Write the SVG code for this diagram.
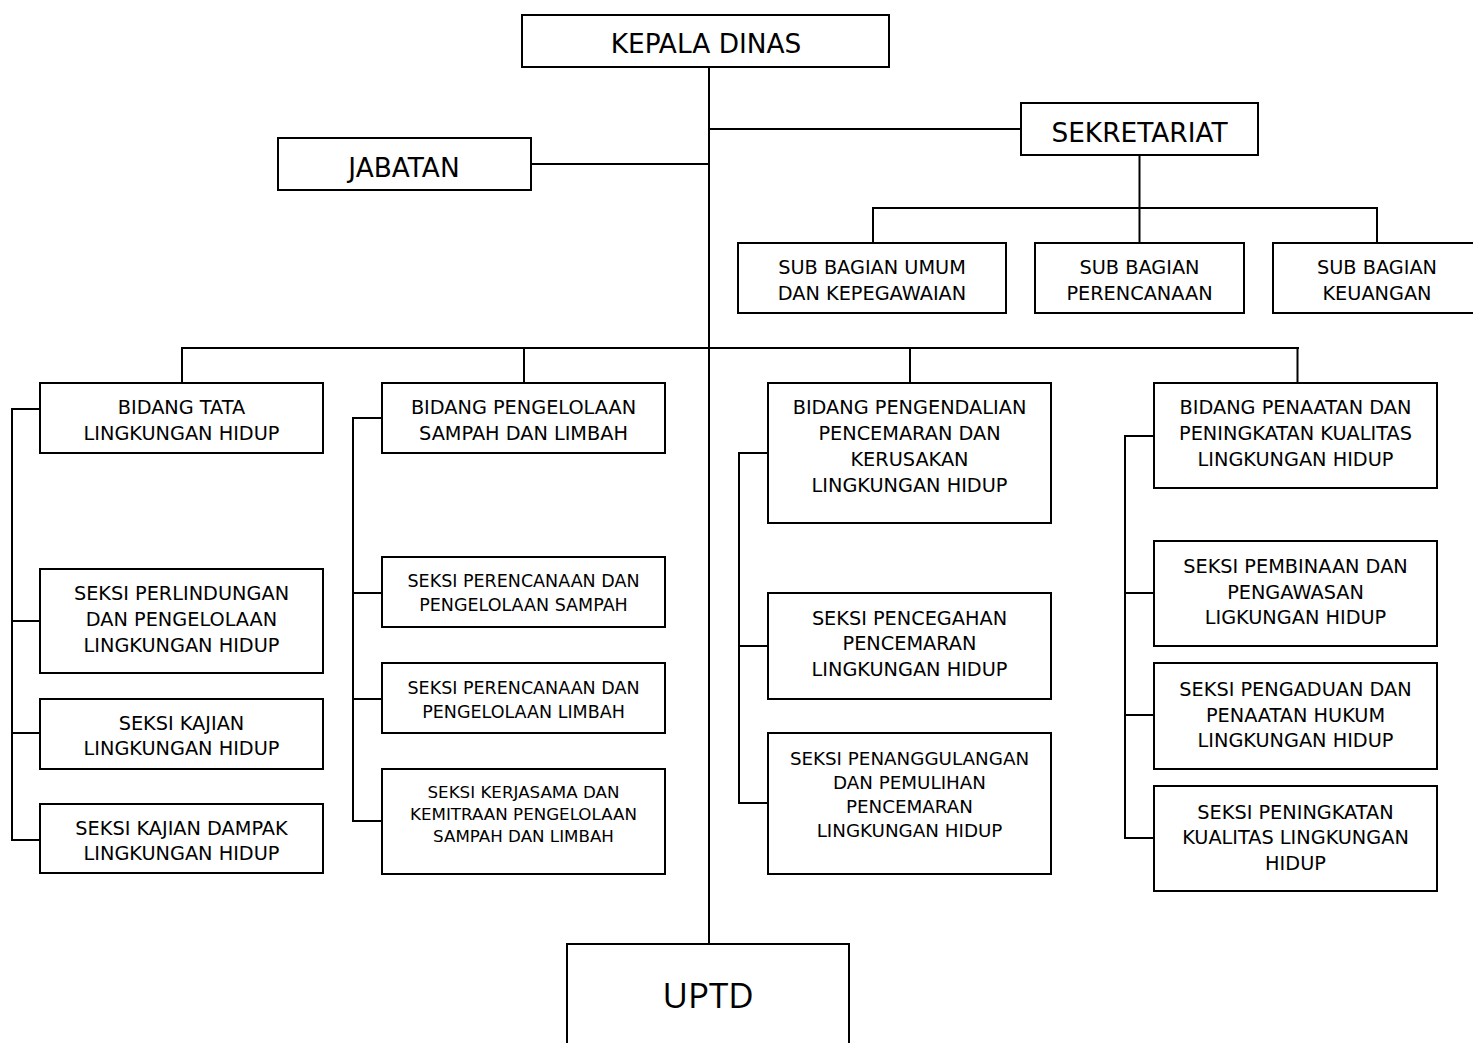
<svg xmlns="http://www.w3.org/2000/svg" width="1473" height="1043" viewBox="0 0 1473 1043">
<style>
rect{fill:#fff;stroke:#000;stroke-width:2}
.c line{stroke:#000;stroke-width:2;fill:none}
text{font-family:"DejaVu Sans",Verdana,sans-serif;text-anchor:middle;fill:#000}
.t{font-size:26.4px}
.m{font-size:19.3px}
.s{font-size:17.5px}
.xs{font-size:16.7px}
.p{font-size:18.3px}
.u{font-family:"Open Sans","Noto Sans",sans-serif;font-size:35px}
</style>
<rect x="0" y="0" width="1473" height="1043" style="stroke:none;fill:#fff"/>
<g class="c" id="connectors">
<line x1="709" y1="67" x2="709" y2="944"/>
<line x1="709" y1="129" x2="1021" y2="129"/>
<line x1="531" y1="164" x2="709" y2="164"/>
<line x1="1139.5" y1="155" x2="1139.5" y2="243"/>
<line x1="872" y1="208" x2="1378" y2="208"/>
<line x1="873" y1="207" x2="873" y2="243"/>
<line x1="1377" y1="207" x2="1377" y2="243"/>
<line x1="181" y1="348" x2="1299" y2="348"/>
<line x1="182" y1="347" x2="182" y2="383"/>
<line x1="524" y1="347" x2="524" y2="383"/>
<line x1="910" y1="347" x2="910" y2="383"/>
<line x1="1297.5" y1="347" x2="1297.5" y2="383"/>
<line x1="12" y1="408" x2="12" y2="841"/>
<line x1="11" y1="409" x2="40" y2="409"/>
<line x1="12" y1="621" x2="40" y2="621"/>
<line x1="12" y1="733" x2="40" y2="733"/>
<line x1="11" y1="840" x2="40" y2="840"/>
<line x1="353" y1="417" x2="353" y2="822"/>
<line x1="352" y1="418" x2="382" y2="418"/>
<line x1="353" y1="593" x2="382" y2="593"/>
<line x1="353" y1="699" x2="382" y2="699"/>
<line x1="352" y1="821" x2="382" y2="821"/>
<line x1="739" y1="452" x2="739" y2="804"/>
<line x1="738" y1="453" x2="768" y2="453"/>
<line x1="739" y1="646" x2="768" y2="646"/>
<line x1="738" y1="803" x2="768" y2="803"/>
<line x1="1125" y1="435" x2="1125" y2="839"/>
<line x1="1124" y1="436" x2="1154" y2="436"/>
<line x1="1125" y1="593" x2="1154" y2="593"/>
<line x1="1125" y1="715" x2="1154" y2="715"/>
<line x1="1124" y1="838" x2="1154" y2="838"/>
</g>
<g id="kepala-dinas"><rect x="522" y="15" width="367" height="52"/><text class="t" x="706" y="53">KEPALA DINAS</text></g>
<g id="jabatan"><rect x="278" y="138" width="253" height="52"/><text class="t" x="404" y="177">JABATAN</text></g>
<g id="sekretariat"><rect x="1021" y="103" width="237" height="52"/><text class="t" x="1139.5" y="142">SEKRETARIAT</text></g>
<g id="sub-umum"><rect x="738" y="243" width="268" height="70"/><text class="m" x="872" y="274">SUB BAGIAN UMUM</text><text class="m" x="872" y="300">DAN KEPEGAWAIAN</text></g>
<g id="sub-perencanaan"><rect x="1035" y="243" width="209" height="70"/><text class="m" x="1139.5" y="274">SUB BAGIAN</text><text class="m" x="1139.5" y="300">PERENCANAAN</text></g>
<g id="sub-keuangan"><rect x="1273" y="243" width="210" height="70"/><text class="m" x="1377" y="274">SUB BAGIAN</text><text class="m" x="1377" y="300">KEUANGAN</text></g>
<g id="bidang-tata"><rect x="40" y="383" width="283" height="70"/><text class="m" x="181.5" y="414">BIDANG TATA</text><text class="m" x="181.5" y="440">LINGKUNGAN HIDUP</text></g>
<g id="bidang-pengelolaan"><rect x="382" y="383" width="283" height="70"/><text class="m" x="523.5" y="414">BIDANG PENGELOLAAN</text><text class="m" x="523.5" y="440">SAMPAH DAN LIMBAH</text></g>
<g id="bidang-pengendalian"><rect x="768" y="383" width="283" height="140"/><text class="m" x="909.5" y="414">BIDANG PENGENDALIAN</text><text class="m" x="909.5" y="440">PENCEMARAN DAN</text><text class="m" x="909.5" y="466">KERUSAKAN</text><text class="m" x="909.5" y="492">LINGKUNGAN HIDUP</text></g>
<g id="bidang-penaatan"><rect x="1154" y="383" width="283" height="105"/><text class="m" x="1295.5" y="414">BIDANG PENAATAN DAN</text><text class="m" x="1295.5" y="440">PENINGKATAN KUALITAS</text><text class="m" x="1295.5" y="466">LINGKUNGAN HIDUP</text></g>
<g id="seksi-perlindungan"><rect x="40" y="569" width="283" height="104"/><text class="m" x="181.5" y="600">SEKSI PERLINDUNGAN</text><text class="m" x="181.5" y="626">DAN PENGELOLAAN</text><text class="m" x="181.5" y="652">LINGKUNGAN HIDUP</text></g>
<g id="seksi-kajian"><rect x="40" y="699" width="283" height="70"/><text class="m" x="181.5" y="730">SEKSI KAJIAN</text><text class="m" x="181.5" y="755">LINGKUNGAN HIDUP</text></g>
<g id="seksi-kajian-dampak"><rect x="40" y="804" width="283" height="69"/><text class="m" x="181.5" y="835">SEKSI KAJIAN DAMPAK</text><text class="m" x="181.5" y="860">LINGKUNGAN HIDUP</text></g>
<g id="seksi-sampah"><rect x="382" y="557" width="283" height="70"/><text class="s" x="523.5" y="587">SEKSI PERENCANAAN DAN</text><text class="s" x="523.5" y="611">PENGELOLAAN SAMPAH</text></g>
<g id="seksi-limbah"><rect x="382" y="663" width="283" height="70"/><text class="s" x="523.5" y="694">SEKSI PERENCANAAN DAN</text><text class="s" x="523.5" y="718">PENGELOLAAN LIMBAH</text></g>
<g id="seksi-kerjasama"><rect x="382" y="769" width="283" height="105"/><text class="xs" x="523.5" y="798">SEKSI KERJASAMA DAN</text><text class="xs" x="523.5" y="820">KEMITRAAN PENGELOLAAN</text><text class="xs" x="523.5" y="842">SAMPAH DAN LIMBAH</text></g>
<g id="seksi-pencegahan"><rect x="768" y="593" width="283" height="106"/><text class="m" x="909.5" y="625">SEKSI PENCEGAHAN</text><text class="m" x="909.5" y="650">PENCEMARAN</text><text class="m" x="909.5" y="676">LINGKUNGAN HIDUP</text></g>
<g id="seksi-penanggulangan"><rect x="768" y="733" width="283" height="141"/><text class="p" x="909.5" y="765">SEKSI PENANGGULANGAN</text><text class="p" x="909.5" y="789">DAN PEMULIHAN</text><text class="p" x="909.5" y="813">PENCEMARAN</text><text class="p" x="909.5" y="837">LINGKUNGAN HIDUP</text></g>
<g id="seksi-pembinaan"><rect x="1154" y="541" width="283" height="105"/><text class="m" x="1295.5" y="573">SEKSI PEMBINAAN DAN</text><text class="m" x="1295.5" y="599">PENGAWASAN</text><text class="m" x="1295.5" y="624">LIGKUNGAN HIDUP</text></g>
<g id="seksi-pengaduan"><rect x="1154" y="663" width="283" height="106"/><text class="m" x="1295.5" y="696">SEKSI PENGADUAN DAN</text><text class="m" x="1295.5" y="722">PENAATAN HUKUM</text><text class="m" x="1295.5" y="747">LINGKUNGAN HIDUP</text></g>
<g id="seksi-peningkatan"><rect x="1154" y="786" width="283" height="105"/><text class="m" x="1295.5" y="819">SEKSI PENINGKATAN</text><text class="m" x="1295.5" y="844">KUALITAS LINGKUNGAN</text><text class="m" x="1295.5" y="870">HIDUP</text></g>
<g id="uptd"><rect x="567" y="944" width="282" height="110"/><text class="u" x="708" y="1008">UPTD</text></g>
</svg>
